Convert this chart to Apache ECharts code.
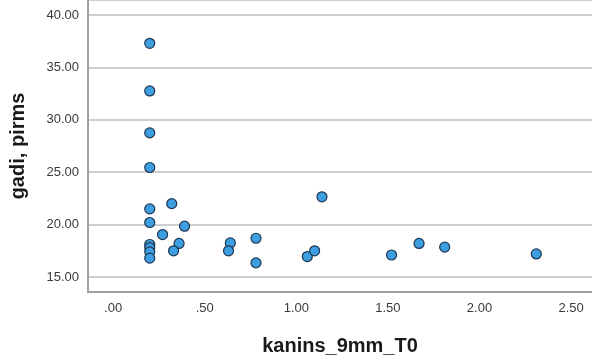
<!DOCTYPE html>
<html>
<head>
<meta charset="utf-8">
<script src="https://cdn.jsdelivr.net/npm/echarts@6/dist/echarts.min.js"></script>
<style>html,body{margin:0;padding:0;background:#fff}#c{width:592px;height:362px}</style>
</head>
<body>
<div id="c"></div>
<script>
const xLabel = 'kanins_9mm_T0';
const yLabel = 'gadi, pirms';
const xTicks = [0, 0.5, 1, 1.5, 2, 2.5];
const yTicks = [15, 20, 25, 30, 35, 40];
const xValues = [0.20, 0.20, 0.20, 0.20, 0.20, 0.20, 0.20, 0.20, 0.20, 0.20,
                 0.32, 0.39, 0.27, 0.36, 0.33, 0.64, 0.63, 0.78, 0.78,
                 1.14, 1.06, 1.10, 1.52, 1.67, 1.81, 2.31];
const yValues = [37.3, 32.75, 28.75, 25.45, 21.5, 20.2, 18.1, 17.8, 17.4, 16.8,
                 22.0, 19.85, 19.05, 18.2, 17.5, 18.25, 17.5, 18.7, 16.35,
                 22.65, 16.95, 17.5, 17.1, 18.2, 17.85, 17.2];
const points = xValues.map((x, i) => [x, yValues[i]]);

const fmt = v => {
  let s = Number(v).toFixed(2);
  if (s.startsWith('0.')) s = s.slice(1);
  return s;
};

const chart = echarts.init(document.getElementById('c'), null, {renderer: 'canvas'});
chart.setOption({
  animation: false,
  backgroundColor: '#ffffff',
  grid: {left: 87, right: 0, top: 0, bottom: 70, containLabel: false},
  xAxis: {
    type: 'value', min: -0.137, max: 2.614,
    name: xLabel, nameLocation: 'middle', nameGap: 44,
    nameTextStyle: {fontFamily: 'Liberation Sans', fontWeight: 'bold', fontSize: 20, color: '#1a1a1a'},
    axisLine: {show: true, onZero: false, lineStyle: {color: '#a0a0a0', width: 2}},
    axisTick: {show: false},
    splitLine: {show: false},
    axisLabel: {
      margin: 10, fontFamily: 'Liberation Sans', fontSize: 13, color: '#3a3a3a',
      customValues: xTicks,
      formatter: fmt
    }
  },
  yAxis: {
    type: 'value', min: 13.57, max: 41.43,
    name: yLabel, nameLocation: 'middle', nameGap: 60,
    nameTextStyle: {fontFamily: 'Liberation Sans', fontWeight: 'bold', fontSize: 20, color: '#1a1a1a'},
    axisLine: {show: true, onZero: false, lineStyle: {color: '#a0a0a0', width: 2}},
    axisTick: {show: false},
    splitLine: {show: true, lineStyle: {color: '#cfcfcf', width: 2}},
    axisLabel: {
      margin: 9, fontFamily: 'Liberation Sans', fontSize: 13, color: '#3a3a3a',
      customValues: yTicks,
      formatter: fmt
    }
  },
  series: [{
    type: 'scatter',
    data: points,
    symbol: 'circle',
    symbolSize: 10,
    itemStyle: {color: '#3d9fe2', borderColor: '#1e3550', borderWidth: 1.2, opacity: 1}
  }]
});
</script>
</body>
</html>
